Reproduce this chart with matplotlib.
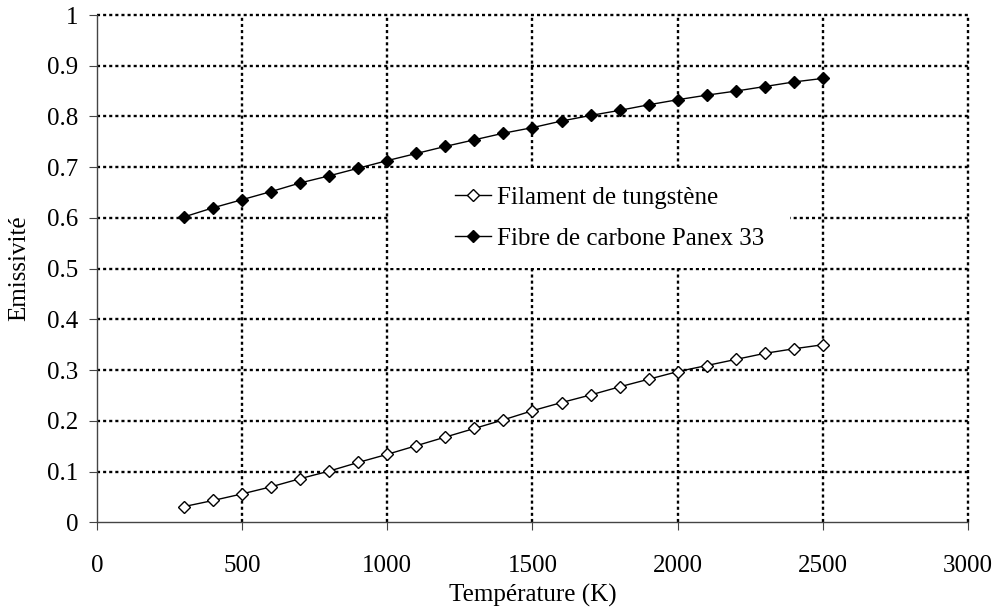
import matplotlib
matplotlib.use("Agg")
import matplotlib.pyplot as plt
from matplotlib.patches import Rectangle

# données
temperature = [300, 400, 500, 600, 700, 800, 900, 1000, 1100, 1200, 1300, 1400,
               1500, 1600, 1700, 1800, 1900, 2000, 2100, 2200, 2300, 2400, 2500]
tungstene = [0.031, 0.043, 0.056, 0.070, 0.086, 0.101, 0.118, 0.134, 0.151, 0.168,
             0.185, 0.202, 0.220, 0.236, 0.251, 0.267, 0.282, 0.297, 0.309, 0.321,
             0.333, 0.342, 0.350]
carbone = [0.602, 0.620, 0.636, 0.652, 0.669, 0.683, 0.698, 0.713, 0.727, 0.741,
           0.754, 0.767, 0.778, 0.791, 0.802, 0.812, 0.823, 0.833, 0.842, 0.850,
           0.859, 0.868, 0.875]
xticks = [0, 500, 1000, 1500, 2000, 2500, 3000]
yticks = [0, 0.1, 0.2, 0.3, 0.4, 0.5, 0.6, 0.7, 0.8, 0.9, 1]
ytick_labels = ["0", "0.1", "0.2", "0.3", "0.4", "0.5", "0.6", "0.7", "0.8", "0.9", "1"]
labels = ["Filament de tungstène", "Fibre de carbone Panex 33"]

plt.rcParams["font.family"] = ["Liberation Serif", "DejaVu Serif"]
plt.rcParams["lines.scale_dashes"] = False

fig = plt.figure(figsize=(9.97, 6.10), dpi=100)
ax = fig.add_axes([0.0973, 0.1438, 0.8736, 0.8316])

ax.plot(temperature, tungstene, color="black", lw=1.0, marker="D", ms=6,
        mfc="white", mec="black", mew=1.0, label=labels[0], zorder=3)
ax.plot(temperature, carbone, color="black", lw=1.0, marker="D", ms=6.5,
        mfc="black", mec="black", label=labels[1], zorder=3)

ax.set_xlim(0, 3000)
ax.set_ylim(0, 1)
ax.set_xticks(xticks)
ax.set_yticks(yticks)
ax.set_yticklabels(ytick_labels)

ax.grid(True, color="black", linestyle=(0, (2.2, 2.2)), linewidth=1.7)
ax.set_axisbelow(True)
# pas de pointillés sur les axes, lignes du bord entières
for gl in [ax.xaxis.get_gridlines()[0], ax.yaxis.get_gridlines()[0]]:
    gl.set_visible(False)
for gl in ax.xaxis.get_gridlines() + ax.yaxis.get_gridlines():
    gl.set_clip_on(False)

for side in ["top", "right"]:
    ax.spines[side].set_visible(False)
for side in ["left", "bottom"]:
    ax.spines[side].set_color("#444444")
    ax.spines[side].set_linewidth(1.0)
    ax.spines[side].set_zorder(2.5)

ax.tick_params(axis="both", direction="out", length=5.5, width=0.8,
               color="#444444", labelsize=18)
ax.tick_params(axis="x", pad=18)
ax.tick_params(axis="y", pad=8)

ax.set_xlabel("Température (K)", fontsize=18, labelpad=5)
ax.set_ylabel("Emissivité", fontsize=18, labelpad=12)

# fond blanc derrière la légende
ax.add_patch(Rectangle((0.336, 0.501), 0.46, 0.197, transform=ax.transAxes,
                       facecolor="white", edgecolor="none", zorder=1))

ax.legend(loc="center left", bbox_to_anchor=(0.411, 0.600), frameon=False,
          fontsize=18, borderpad=0, borderaxespad=0, handlelength=1.45,
          handletextpad=0.25, labelspacing=0.75)

fig.savefig("out.png", dpi=100)
